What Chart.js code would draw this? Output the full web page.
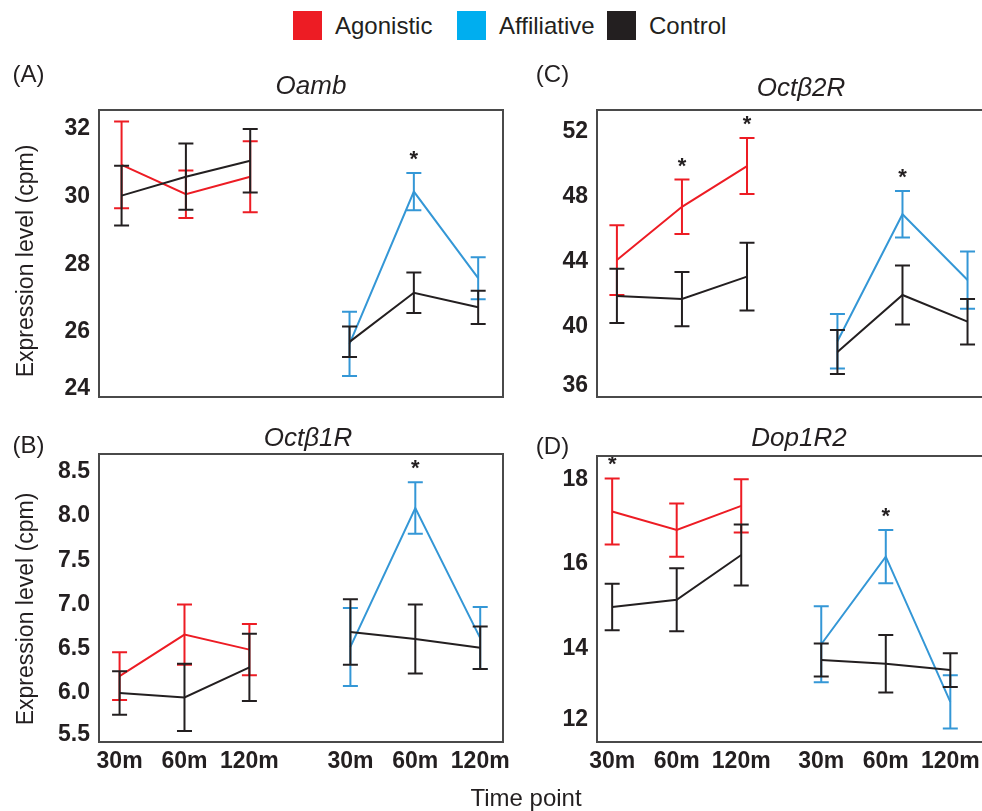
<!DOCTYPE html>
<html><head><meta charset="utf-8">
<script src="https://cdn.jsdelivr.net/npm/chart.js@4/dist/chart.umd.min.js"></script>
<style>
html,body{margin:0;padding:0;background:#fff;overflow:hidden;width:982px;height:811px;}
#page{position:relative;width:982px;height:811px;overflow:hidden;font-family:'Liberation Sans',Arial,Helvetica,sans-serif;color:#231f20;}
canvas{position:absolute;}
.t{position:absolute;white-space:nowrap;transform:translate(-50%,-50%);line-height:1;}
.it{font-style:italic;font-size:26px;}
.lab{font-size:24px;}
.yt{font-size:23px;transform:translate(-50%,-50%) rotate(-90deg);}
.lg{position:absolute;top:11px;height:29px;display:flex;align-items:center;font-size:24px;}
.lg span.sq{display:inline-block;width:29px;height:29px;margin-right:13px;}
</style></head><body><div id="page"></div>
<script>
// ---------- data ----------
const timeLabels = ['30m', '60m', '120m'];
const seriesNames = ['Agonistic', 'Affiliative', 'Control'];

// (A) Oamb
const oambAgonistic = [30.94, 30.07, 30.59];
const oambAgonisticErr = [1.28, 0.70, 1.05];
const oambAffiliative = [25.65, 30.15, 27.59];
const oambAffiliativeErr = [0.95, 0.55, 0.62];
const oambControl = [30.03, 30.59, 31.06, 25.71, 27.16, 26.73];
const oambControlErr = [0.88, 0.98, 0.94, 0.45, 0.60, 0.49];
const oambSigAgonistic = [0, 0, 0];
const oambSigAffiliative = [0, 1, 0];
const oambTicks = ['24', '26', '28', '30', '32'];

// (B) Octβ1R
const octb1rAgonistic = [6.19, 6.66, 6.49];
const octb1rAgonisticErr = [0.27, 0.34, 0.29];
const octb1rAffiliative = [6.52, 8.09, 6.62];
const octb1rAffiliativeErr = [0.44, 0.29, 0.35];
const octb1rControl = [6.00, 5.95, 6.29, 6.69, 6.61, 6.51];
const octb1rControlErr = [0.245, 0.38, 0.38, 0.37, 0.39, 0.24];
const octb1rSigAgonistic = [0, 0, 0];
const octb1rSigAffiliative = [0, 1, 0];
const octb1rTicks = ['5.5', '6.0', '6.5', '7.0', '7.5', '8.0', '8.5'];

// (C) Octβ2R
const octb2rAgonistic = [44.1, 47.38, 49.89];
const octb2rAgonisticErr = [2.15, 1.68, 1.72];
const octb2rAffiliative = [39.1, 46.92, 42.87];
const octb2rAffiliativeErr = [1.68, 1.43, 1.76];
const octb2rControl = [41.89, 41.70, 43.08, 38.44, 41.95, 40.31];
const octb2rControlErr = [1.67, 1.67, 2.08, 1.35, 1.82, 1.40];
const octb2rSigAgonistic = [0, 1, 1];
const octb2rSigAffiliative = [0, 1, 0];
const octb2rTicks = ['36', '40', '44', '48', '52'];

// (D) Dop1R2
const dop1r2Agonistic = [17.24, 16.80, 17.37];
const dop1r2AgonisticErr = [0.78, 0.63, 0.63];
const dop1r2Affiliative = [14.1, 16.17, 12.74];
const dop1r2AffiliativeErr = [0.9, 0.63, 0.63];
const dop1r2Control = [14.98, 15.15, 16.21, 13.73, 13.64, 13.49];
const dop1r2ControlErr = [0.55, 0.745, 0.72, 0.39, 0.68, 0.40];
const dop1r2SigAgonistic = [1, 0, 0];
const dop1r2SigAffiliative = [0, 1, 0];
const dop1r2Ticks = ['12', '14', '16', '18'];

// ---------- styles / layout ----------
const COLORS = { Agonistic: '#ed1c24', Affiliative: '#3497d6', Control: '#231f20' };
const LEGEND_COLORS = { Agonistic: '#ed1c24', Affiliative: '#00aeef', Control: '#231f20' };
const FONT = "'Liberation Sans', Arial, Helvetica, sans-serif";
const TICK_SIZE = 23;
Chart.defaults.font.family = FONT;
Chart.defaults.color = '#231f20';

const page = document.getElementById('page');

function addText(txt, x, y, cls) {
  const d = document.createElement('div');
  d.className = 't ' + cls;
  d.textContent = txt;
  d.style.left = x + 'px'; d.style.top = y + 'px';
  page.appendChild(d);
}

// legend
const legendLefts = [293, 457, 607];
seriesNames.forEach((n, i) => {
  const d = document.createElement('div');
  d.className = 'lg';
  d.style.left = legendLefts[i] + 'px';
  const sq = document.createElement('span');
  sq.className = 'sq'; sq.style.background = LEGEND_COLORS[n];
  d.appendChild(sq);
  d.appendChild(document.createTextNode(n));
  page.appendChild(d);
});

const errorBars = {
  id: 'errorBars',
  afterDatasetDraw(chart, args) {
    const ds = chart.data.datasets[args.index];
    if (!ds.errors) return;
    const ctx = chart.ctx, ys = chart.scales.y;
    ctx.save();
    ctx.strokeStyle = ds.borderColor; ctx.lineWidth = 2;
    args.meta.data.forEach((pt, i) => {
      const d = ds.data[i];
      if (d.y == null) return;
      const e = ds.errors[i];
      const top = ys.getPixelForValue(d.y + e), bot = ys.getPixelForValue(d.y - e);
      ctx.beginPath();
      ctx.moveTo(pt.x, top); ctx.lineTo(pt.x, bot);
      ctx.moveTo(pt.x - 7.5, top); ctx.lineTo(pt.x + 7.5, top);
      ctx.moveTo(pt.x - 7.5, bot); ctx.lineTo(pt.x + 7.5, bot);
      ctx.stroke();
      if (ds.stars && ds.stars[i]) {
        ctx.fillStyle = '#231f20';
        ctx.font = 'bold 22px ' + FONT;
        ctx.textAlign = 'center'; ctx.textBaseline = 'alphabetic';
        ctx.fillText('*', pt.x, top - 19 + 12);
      }
    });
    ctx.restore();
  }
};

const boxPlugin = {
  id: 'box',
  afterDraw(chart) {
    const a = chart.chartArea, ctx = chart.ctx;
    ctx.save();
    ctx.strokeStyle = '#4a4a4a'; ctx.lineWidth = 2;
    ctx.strokeRect(a.left, a.top, a.right - a.left, a.bottom - a.top);
    ctx.restore();
  }
};

function makePanel(p) {
  const c = document.createElement('canvas');
  c.width = p.w; c.height = p.h;
  c.style.left = p.left + 'px'; c.style.top = p.top + 'px';
  c.style.width = p.w + 'px'; c.style.height = p.h + 'px';
  page.appendChild(c);

  const g = p.gap;
  const pos1 = [0, 1, 2], pos2 = [g, g + 1, g + 2];
  const allPos = pos1.concat(pos2);
  const pts = (xs, ys) => xs.map((x, i) => ({ x, y: ys[i] }));

  const ctrlData = pts(pos1, p.control.slice(0, 3))
    .concat([{ x: (2 + g) / 2, y: null }])
    .concat(pts(pos2, p.control.slice(3)));
  const ctrlErr = p.controlErr.slice(0, 3).concat([0]).concat(p.controlErr.slice(3));

  const base = { borderWidth: 2, pointRadius: 0, pointHoverRadius: 0, tension: 0, fill: false, spanGaps: false };
  const datasets = [
    Object.assign({ label: 'Control', data: ctrlData, errors: ctrlErr, borderColor: COLORS.Control }, base),
    Object.assign({ label: 'Agonistic', data: pts(pos1, p.agon), errors: p.agonErr, stars: p.sigAgon, borderColor: COLORS.Agonistic }, base),
    Object.assign({ label: 'Affiliative', data: pts(pos2, p.affil), errors: p.affilErr, stars: p.sigAffil, borderColor: COLORS.Affiliative }, base)
  ];

  const yVals = p.ticks.map(parseFloat);
  new Chart(c, {
    type: 'line',
    data: { datasets },
    plugins: [errorBars, boxPlugin],
    options: {
      responsive: false, animation: false, devicePixelRatio: 1,
      layout: { padding: { left: 0, top: p.padTop, right: p.padRight, bottom: p.padBottom } },
      plugins: { legend: { display: false }, tooltip: { enabled: false } },
      events: [],
      scales: {
        x: {
          type: 'linear', min: p.xMin, max: p.xMax,
          display: p.showX,
          grid: { display: false, drawTicks: false }, border: { display: false },
          afterBuildTicks: s => { s.ticks = allPos.map(v => ({ value: v })); },
          afterFit: s => { s.height = p.xHeight; },
          ticks: {
            padding: 6, maxRotation: 0, autoSkip: false,
            font: { size: TICK_SIZE, weight: 'bold' }, color: '#231f20',
            callback: (v, i) => timeLabels[i % 3]
          }
        },
        y: {
          type: 'linear', min: p.yMin, max: p.yMax,
          grid: { display: false, drawTicks: false }, border: { display: false },
          afterBuildTicks: s => { s.ticks = yVals.map(v => ({ value: v })); },
          afterFit: s => { s.width = p.yWidth; },
          ticks: {
            padding: 9, autoSkip: false, color: '#231f20',
            font: ctx => ({ size: TICK_SIZE, weight: 'bold', lineHeight: (ctx.index === 0 && p.bottomShift) ? (2 * p.bottomShift) / TICK_SIZE : 1.2 }),
            callback: (v, i) => (i === 0 && p.bottomShift) ? [p.ticks[i], ''] : p.ticks[i]
          }
        }
      }
    }
  });
}

makePanel({ left: 0, top: 60, w: 520, h: 377, padTop: 50, padRight: 17, padBottom: 40, yWidth: 99, showX: false, xHeight: 0,
  gap: 3.544, xMin: -0.351, xMax: 5.93, yMin: 24.08, yMax: 32.56, ticks: oambTicks, bottomShift: 11.5,
  agon: oambAgonistic, agonErr: oambAgonisticErr, affil: oambAffiliative, affilErr: oambAffiliativeErr,
  control: oambControl, controlErr: oambControlErr, sigAgon: oambSigAgonistic, sigAffil: oambSigAffiliative });

makePanel({ left: 0, top: 420, w: 520, h: 391, padTop: 34, padRight: 17, padBottom: 0, yWidth: 99, showX: true, xHeight: 69,
  gap: 3.556, xMin: -0.317, xMax: 5.907, yMin: 5.446, yMax: 8.70, ticks: octb1rTicks, bottomShift: 3,
  agon: octb1rAgonistic, agonErr: octb1rAgonisticErr, affil: octb1rAffiliative, affilErr: octb1rAffiliativeErr,
  control: octb1rControl, controlErr: octb1rControlErr, sigAgon: octb1rSigAgonistic, sigAffil: octb1rSigAffiliative });

makePanel({ left: 540, top: 60, w: 470, h: 377, padTop: 50, padRight: 21, padBottom: 40, yWidth: 57, showX: false, xHeight: 0,
  gap: 3.39, xMin: -0.306, xMax: 5.72, yMin: 35.67, yMax: 53.34, ticks: octb2rTicks, bottomShift: 6,
  agon: octb2rAgonistic, agonErr: octb2rAgonisticErr, affil: octb2rAffiliative, affilErr: octb2rAffiliativeErr,
  control: octb2rControl, controlErr: octb2rControlErr, sigAgon: octb2rSigAgonistic, sigAffil: octb2rSigAffiliative });

makePanel({ left: 540, top: 420, w: 470, h: 391, padTop: 36, padRight: 10, padBottom: 0, yWidth: 57, showX: true, xHeight: 69,
  gap: 3.24, xMin: -0.235, xMax: 6.01, yMin: 11.79, yMax: 18.55, ticks: dop1r2Ticks, bottomShift: 13.5,
  agon: dop1r2Agonistic, agonErr: dop1r2AgonisticErr, affil: dop1r2Affiliative, affilErr: dop1r2AffiliativeErr,
  control: dop1r2Control, controlErr: dop1r2ControlErr, sigAgon: dop1r2SigAgonistic, sigAffil: dop1r2SigAffiliative });

// titles and labels
addText('(A)', 28.5, 74, 'lab');
addText('(B)', 28.5, 445, 'lab');
addText('(C)', 552.5, 74, 'lab');
addText('(D)', 552.5, 446, 'lab');
addText('Oamb', 311, 85, 'it');
addText('Octβ1R', 308, 437, 'it');
addText('Octβ2R', 801, 87, 'it');
addText('Dop1R2', 799, 437, 'it');
addText('Expression level (cpm)', 25, 261, 'yt');
addText('Expression level (cpm)', 25, 609, 'yt');
addText('Time point', 526, 798, 'lab');
</script>
</body></html>
